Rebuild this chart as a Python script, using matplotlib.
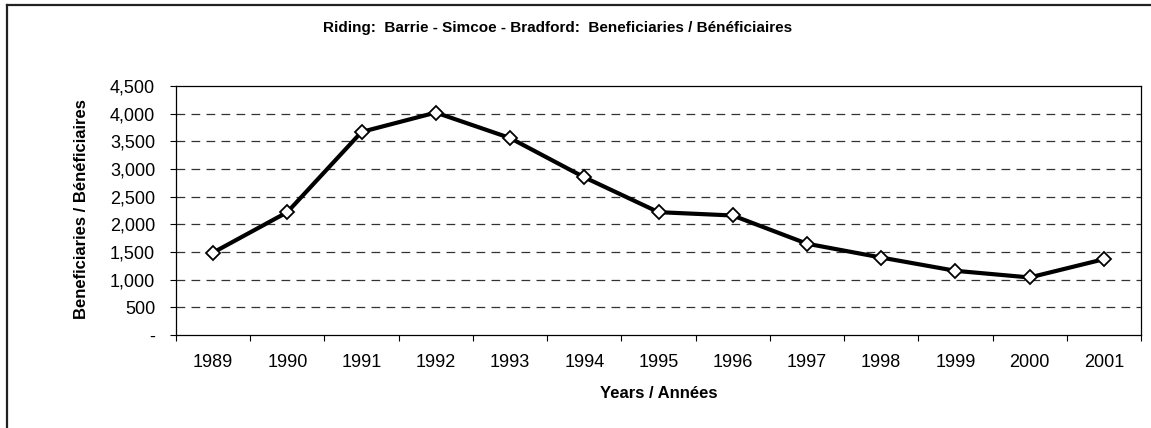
import matplotlib
matplotlib.use("Agg")
import matplotlib.pyplot as plt
from matplotlib.lines import Line2D
from matplotlib.ticker import FuncFormatter, FixedLocator
from matplotlib import font_manager

# data
years = ["1989", "1990", "1991", "1992", "1993", "1994", "1995",
         "1996", "1997", "1998", "1999", "2000", "2001"]
beneficiaries = [1490, 2220, 3670, 4020, 3560, 2850, 2220,
                 2160, 1650, 1400, 1160, 1040, 1370]

title = "Riding:  Barrie - Simcoe - Bradford:  Beneficiaries / Bénéficiaires"
y_label = "Beneficiaries / Bénéficiaires"
x_label = "Years / Années"

# narrow bold font for the titles, if available
names = {f.name for f in font_manager.fontManager.ttflist}
narrow = "Liberation Sans Narrow" if "Liberation Sans Narrow" in names else "Liberation Sans"

plt.rcParams["font.family"] = ["Liberation Sans", "DejaVu Sans"]

W, H = 1151, 428
fig = plt.figure(figsize=(W / 100, H / 100), dpi=100)
fig.patch.set_facecolor("white")

# plot area in pixels: left 176, right 1141, top 86, bottom 335
ax = fig.add_axes([176 / W, 1 - 335 / H, (1141 - 176) / W, (335 - 86) / H])

x = list(range(len(years)))
ax.plot(x, beneficiaries, color="black", linewidth=3.0, marker="D",
        markersize=7, markerfacecolor="white", markeredgecolor="black",
        markeredgewidth=1.3, zorder=3)

ax.set_xlim(-0.5, len(years) - 0.5)
ax.set_ylim(0, 4500)

# y axis
ax.set_yticks(range(0, 4501, 500))
ax.yaxis.set_major_formatter(FuncFormatter(lambda v, p: "-" if v == 0 else f"{int(v):,}"))
ax.tick_params(axis="y", direction="out", length=4, width=0.8, pad=11, labelsize=13)

# x axis: tick marks between categories, labels centred on categories
ax.xaxis.set_major_locator(FixedLocator([i - 0.5 for i in range(len(years) + 1)]))
ax.xaxis.set_major_formatter(FuncFormatter(lambda v, p: ""))
ax.xaxis.set_minor_locator(FixedLocator(x))
ax.set_xticklabels(years, minor=True)
ax.tick_params(axis="x", which="major", direction="out", length=4, width=0.8)
ax.tick_params(axis="x", which="minor", length=0, pad=14, labelsize=13)

# dashed grid
for v in range(500, 4500, 500):
    ax.axhline(v, color="#333333", linewidth=0.9, linestyle=(0, (7, 5)), zorder=1)

for s in ax.spines.values():
    s.set_linewidth(0.9)
    s.set_color("black")

fig.text(558 / W, 1 - 28 / H, title, ha="center", va="center",
         fontsize=11, fontweight="bold", family=[narrow, "DejaVu Sans"])
fig.text(82 / W, 1 - 209 / H, y_label, ha="center", va="center", rotation=90,
         fontsize=12, fontweight="bold", family=[narrow, "DejaVu Sans"])
fig.text(659 / W, 1 - 393 / H, x_label, ha="center", va="center",
         fontsize=12, fontweight="bold", family=[narrow, "DejaVu Sans"])

# outer chart border (only top and left edges are visible)
fig.add_artist(Line2D([7 / W, 7 / W], [0, 1 - 5 / H], color="#222222", linewidth=1.6,
                      transform=fig.transFigure))
fig.add_artist(Line2D([7 / W, 1], [1 - 5 / H, 1 - 5 / H], color="#222222", linewidth=1.6,
                      transform=fig.transFigure))

fig.savefig("out.png", dpi=100)
